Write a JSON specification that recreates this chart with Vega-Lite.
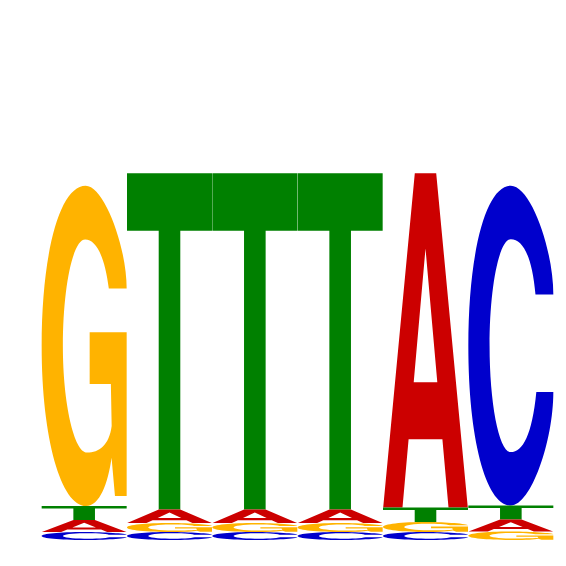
{
  "$schema": "https://vega.github.io/schema/vega-lite/v6.json",
  "autosize": "none",
  "padding": {"left": 41.5, "top": 0, "right": 12.5, "bottom": 26},
  "width": 512,
  "height": 540,
  "data": {
    "values": [
      {"pos": 1, "letter": "G", "bits": 1.186},
      {"pos": 1, "letter": "T", "bits": 0.0519},
      {"pos": 1, "letter": "A", "bits": 0.0444},
      {"pos": 1, "letter": "C", "bits": 0.0296},
      {"pos": 2, "letter": "T", "bits": 1.245},
      {"pos": 2, "letter": "A", "bits": 0.05},
      {"pos": 2, "letter": "G", "bits": 0.0333},
      {"pos": 2, "letter": "C", "bits": 0.0296},
      {"pos": 3, "letter": "T", "bits": 1.245},
      {"pos": 3, "letter": "A", "bits": 0.05},
      {"pos": 3, "letter": "G", "bits": 0.0333},
      {"pos": 3, "letter": "C", "bits": 0.0296},
      {"pos": 4, "letter": "T", "bits": 1.245},
      {"pos": 4, "letter": "A", "bits": 0.05},
      {"pos": 4, "letter": "G", "bits": 0.0333},
      {"pos": 4, "letter": "C", "bits": 0.0296},
      {"pos": 5, "letter": "A", "bits": 1.238},
      {"pos": 5, "letter": "T", "bits": 0.0537},
      {"pos": 5, "letter": "G", "bits": 0.037},
      {"pos": 5, "letter": "C", "bits": 0.0296},
      {"pos": 6, "letter": "C", "bits": 1.184},
      {"pos": 6, "letter": "T", "bits": 0.0519},
      {"pos": 6, "letter": "A", "bits": 0.0444},
      {"pos": 6, "letter": "G", "bits": 0.0315}
    ]
  },
  "transform": [
    {"stack": "bits", "groupby": ["pos"], "sort": [{"field": "bits", "order": "ascending"}], "as": ["y0", "y1"]},
    {"calculate": "datum.bits * 270", "as": "h"},
    {"calculate": "'M-42.5,'+(-datum.h)+'L42.5,'+(-datum.h)+'L42.5,'+(-0.829*datum.h)+'L10.8,'+(-0.829*datum.h)+'L10.8,0L-10.8,0L-10.8,'+(-0.829*datum.h)+'L-42.5,'+(-0.829*datum.h)+'Z'", "as": "pT"},
    {"calculate": "'M-42.3,0L-10.7,'+(-datum.h)+'L10.7,'+(-datum.h)+'L42.3,0L23,0L16.9,'+(-0.204*datum.h)+'L-16.9,'+(-0.204*datum.h)+'L-23,0ZM-11.8,'+(-0.375*datum.h)+'L11.8,'+(-0.375*datum.h)+'L0,'+(-0.775*datum.h)+'Z'", "as": "pA"},
    {"calculate": "'M42.5,'+(-0.66*datum.h)+'C42.5,'+(-0.8*datum.h)+' 20,'+(-datum.h)+' 0,'+(-datum.h)+'C-25,'+(-datum.h)+' -42.5,'+(-0.79*datum.h)+' -42.5,'+(-0.5*datum.h)+'C-42.5,'+(-0.21*datum.h)+' -25,0 0,0C20,0 42.5,'+(-0.2*datum.h)+' 42.5,'+(-0.355*datum.h)+'L25.5,'+(-0.355*datum.h)+'C21.25,'+(-0.22*datum.h)+' 11.9,'+(-0.167*datum.h)+' 0,'+(-0.167*datum.h)+'C-11.9,'+(-0.167*datum.h)+' -21.25,'+(-0.32*datum.h)+' -21.25,'+(-0.5*datum.h)+'C-21.25,'+(-0.68*datum.h)+' -11.9,'+(-0.833*datum.h)+' 0,'+(-0.833*datum.h)+'C11.9,'+(-0.833*datum.h)+' 21.25,'+(-0.78*datum.h)+' 24.65,'+(-0.66*datum.h)+'Z'", "as": "pC"},
    {"calculate": "'M42.5,'+(-0.679*datum.h)+'C42.5,'+(-0.81*datum.h)+' 20,'+(-datum.h)+' 1.5,'+(-datum.h)+'C-24.5,'+(-datum.h)+' -42.5,'+(-0.79*datum.h)+' -42.5,'+(-0.5*datum.h)+'C-42.5,'+(-0.21*datum.h)+' -23,0 2,0C15.3,0 23.8,'+(-0.07*datum.h)+' 27.4,'+(-0.151*datum.h)+'L30.8,'+(-0.031*datum.h)+'L42.5,'+(-0.031*datum.h)+'L42.5,'+(-0.543*datum.h)+'L5.5,'+(-0.543*datum.h)+'L5.5,'+(-0.381*datum.h)+'L26.7,'+(-0.381*datum.h)+'L27.5,'+(-0.25*datum.h)+'C25,'+(-0.19*datum.h)+' 15,'+(-0.167*datum.h)+' 2.9,'+(-0.167*datum.h)+'C-10,'+(-0.167*datum.h)+' -21.3,'+(-0.32*datum.h)+' -21.3,'+(-0.5*datum.h)+'C-21.3,'+(-0.68*datum.h)+' -11.5,'+(-0.832*datum.h)+' 1,'+(-0.832*datum.h)+'C12,'+(-0.832*datum.h)+' 20.5,'+(-0.78*datum.h)+' 24.65,'+(-0.679*datum.h)+'Z'", "as": "pG"},
    {"calculate": "datum.letter === 'T' ? datum.pT : datum.letter === 'A' ? datum.pA : datum.letter === 'C' ? datum.pC : datum.pG", "as": "glyph"}
  ],
  "mark": {"type": "point", "filled": true, "opacity": 1, "strokeWidth": 0},
  "encoding": {
    "x": {"field": "pos", "type": "quantitative", "scale": {"domain": [0.5, 6.5], "nice": false, "zero": false}, "axis": null},
    "y": {"field": "y0", "type": "quantitative", "stack": null, "scale": {"domain": [0, 2], "nice": false, "zero": false}, "axis": null},
    "shape": {"field": "glyph", "type": "nominal", "scale": null, "legend": null},
    "size": {"value": 4},
    "color": {
      "field": "letter",
      "type": "nominal",
      "scale": {"domain": ["A", "C", "G", "T"], "range": ["#CC0000", "#0000CC", "#FFB300", "#008000"]},
      "legend": null
    }
  },
  "config": {"view": {"stroke": null}}
}
